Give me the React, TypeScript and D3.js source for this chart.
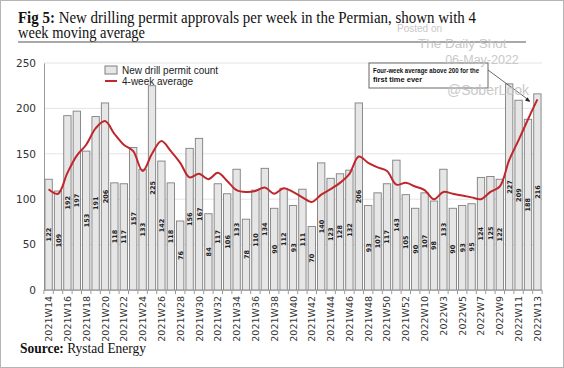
import React, { useEffect, useRef } from "react";
import * as d3 from "d3";

// week categories (the 2022 labels follow the source's own ordering)
const weeks: string[] = [
  ...d3.range(14, 53).map((w) => `2021W${w}`),
  "2022W1", "2022W10", "2022W2", "2022W3", "2022W4", "2022W5", "2022W6",
  "2022W7", "2022W8", "2022W9", "2022W10b", "2022W11", "2022W12", "2022W13",
];
const tickLabel = (w: string) => w.replace("b", "");

const permits: number[] = [
  122, 109, 192, 197, 153, 191, 206, 118, 117, 157, 133, 225, 142, 118, 76, 156, 167, 84, 117, 106,
  133, 78, 110, 134, 90, 112, 93, 111, 70, 140, 123, 128, 132, 206, 93, 107, 117, 143, 105, 90,
  107, 98, 133, 90, 93, 95, 124, 125, 122, 227, 209, 188, 216,
];

const avg4: number[] = [
  111, 106, 129, 148, 160, 178, 186, 172, 160, 153, 131, 150, 164, 153, 140, 124, 128, 122, 129, 120,
  110, 108, 109, 113, 106, 112, 108, 102, 97, 105, 111, 118, 128, 147, 140, 135, 131, 116, 118, 114,
  110, 100, 108, 106, 104, 102, 100, 108, 114, 143, 165, 188, 210,
];

const yTicks = [0, 50, 100, 150, 200, 250];

function App() {
  const ref = useRef<SVGSVGElement>(null);

  useEffect(() => {
    const svg = d3.select(ref.current);
    svg.selectAll("*").remove();

    const width = 564;
    const height = 368;
    const margin = { left: 44, right: 22, top: 63, bottom: 78 };
    const sans = "'Liberation Sans', Arial, sans-serif";
    const serif = "'Liberation Serif', 'DejaVu Serif', serif";

    // frame
    svg.append("rect").attr("x", 0.5).attr("y", 0.5).attr("width", width - 1).attr("height", height - 1)
      .attr("fill", "#fff").attr("stroke", "#b5b5b5");

    // title
    const title = svg.append("text").attr("x", 18).attr("y", 23).style("font-family", serif).style("font-size", "16px").attr("fill", "#111")
      .attr("textLength", 458).attr("lengthAdjust", "spacingAndGlyphs");
    title.append("tspan").attr("font-weight", "bold").text("Fig 5: ");
    title.append("tspan").text("New drilling permit approvals per week in the Permian, shown with 4");
    svg.append("text").attr("x", 18).attr("y", 38).style("font-family", serif).style("font-size", "16px").attr("fill", "#111")
      .attr("textLength", 127).attr("lengthAdjust", "spacingAndGlyphs")
      .text("week moving average");
    svg.append("line").attr("x1", 18).attr("x2", 526).attr("y1", 42).attr("y2", 42).attr("stroke", "#555").attr("stroke-width", 1.2);

    const x = d3.scaleBand<string>().domain(weeks).range([margin.left, width - margin.right]).paddingInner(0.22).paddingOuter(0.1);
    const y = d3.scaleLinear().domain([0, 250]).range([height - margin.bottom, margin.top]);
    const gap = x.step() - x.bandwidth();

    // grid
    svg.append("g").selectAll("line").data(yTicks.slice(1)).join("line")
      .attr("x1", margin.left).attr("x2", width - margin.right)
      .attr("y1", (d) => y(d)).attr("y2", (d) => y(d))
      .attr("stroke", "#e4e4e4");

    // y axis
    const yAxis = svg.append("g").attr("transform", `translate(${margin.left},0)`)
      .call(d3.axisLeft(y).tickValues(yTicks).tickSize(0).tickPadding(8));
    yAxis.select(".domain").attr("stroke", "#999");
    yAxis.selectAll("text").style("font-family", "'DejaVu Sans', sans-serif").style("font-size", "10.5px").attr("fill", "#333");

    // x axis line + tick marks at band boundaries
    svg.append("line").attr("x1", margin.left).attr("x2", width - margin.right)
      .attr("y1", y(0)).attr("y2", y(0)).attr("stroke", "#999");
    const bounds = [...weeks.map((w) => x(w)! - gap / 2), x(weeks[weeks.length - 1])! + x.bandwidth() + gap / 2];
    svg.append("g").selectAll("line").data(bounds).join("line")
      .attr("x1", (d) => d).attr("x2", (d) => d)
      .attr("y1", y(0)).attr("y2", y(0) + 4).attr("stroke", "#999");

    // x labels, rotated
    svg.append("g").selectAll("text").data(weeks.filter((_, i) => i % 2 === 0)).join("text")
      .attr("transform", (w) => `translate(${x(w)! + x.bandwidth() / 2 + 3.5},${y(0) + 6}) rotate(-90)`)
      .attr("text-anchor", "end")
      .style("font-family", "'DejaVu Sans', sans-serif").style("font-size", "9.5px").attr("fill", "#333")
      .text((w) => tickLabel(w));

    // bars
    svg.append("g").selectAll("rect").data(permits).join("rect")
      .attr("x", (_, i) => x(weeks[i])!)
      .attr("y", (d) => y(d))
      .attr("width", x.bandwidth())
      .attr("height", (d) => y(0) - y(d))
      .attr("fill", "#e6e6e6")
      .attr("stroke", "#7f7f7f")
      .attr("stroke-width", 0.9);

    // bar value labels
    svg.append("g").selectAll("text").data(permits).join("text")
      .attr("transform", (d, i) => `translate(${x(weeks[i])! + x.bandwidth() / 2 + 2.5},${(y(d) + y(0)) / 2}) rotate(-90)`)
      .attr("text-anchor", "middle")
      .style("font-family", "'DejaVu Sans', sans-serif").style("font-size", "6.5px").attr("font-weight", "bold").attr("fill", "#222")
      .text((d) => d);

    // moving average
    const line = d3.line<number>()
      .x((_, i) => x(weeks[i])! + x.bandwidth() / 2)
      .y((d) => y(d))
      .curve(d3.curveCatmullRom.alpha(0.5));
    svg.append("path").datum(avg4).attr("d", line).attr("fill", "none").attr("stroke", "#c0272d").attr("stroke-width", 2);

    // legend
    const lg = svg.append("g").attr("transform", "translate(105,66)");
    lg.append("rect").attr("x", 0).attr("y", 0).attr("width", 12).attr("height", 8).attr("fill", "#e6e6e6").attr("stroke", "#7f7f7f");
    lg.append("text").attr("x", 17).attr("y", 8).style("font-family", sans).style("font-size", "10px").attr("fill", "#222").text("New drill permit count");
    lg.append("line").attr("x1", 0).attr("x2", 12).attr("y1", 15).attr("y2", 15).attr("stroke", "#c0272d").attr("stroke-width", 2);
    lg.append("text").attr("x", 17).attr("y", 18.5).style("font-family", sans).style("font-size", "10px").attr("fill", "#222").text("4-week average");

    // annotation
    const an = svg.append("g");
    an.append("rect").attr("x", 369).attr("y", 63).attr("width", 119).attr("height", 25).attr("fill", "#fff").attr("stroke", "#666");
    an.append("text").attr("x", 373).attr("y", 73).style("font-family", sans).style("font-size", "7.5px").attr("font-weight", "bold").attr("fill", "#111")
      .attr("textLength", 106).attr("lengthAdjust", "spacingAndGlyphs")
      .text("Four-week average above 200  for the");
    an.append("text").attr("x", 373).attr("y", 82).style("font-family", sans).style("font-size", "7.5px").attr("font-weight", "bold").attr("fill", "#111")
      .text("first time ever");
    const ax = x(weeks[weeks.length - 2])! + x.bandwidth() / 2 + 2;
    an.append("line").attr("x1", 488).attr("y1", 70).attr("x2", ax).attr("y2", 101).attr("stroke", "#444").attr("stroke-width", 0.8);
    an.append("path").attr("d", `M${ax},${102} l-5,-1.5 l2.6,-3.3 z`).attr("fill", "#222");

    // watermark
    const wm = svg.append("g").attr("fill", "#c4c4c4").attr("opacity", 0.9).style("font-family", sans);
    wm.append("text").attr("x", 397).attr("y", 32).style("font-size", "10px").text("Posted on");
    wm.append("text").attr("x", 418).attr("y", 48).style("font-size", "13.5px").text("The Daily Shot");
    wm.append("text").attr("x", 482).attr("y", 64).attr("text-anchor", "middle").style("font-size", "12.5px").text("06-May-2022");
    wm.append("text").attr("x", 488).attr("y", 95).attr("text-anchor", "middle").style("font-size", "14px").text("@SoberLook");

    // source
    const src = svg.append("text").attr("x", 20).attr("y", 353).style("font-family", serif).style("font-size", "14px").attr("fill", "#111")
      .attr("textLength", 126).attr("lengthAdjust", "spacingAndGlyphs");
    src.append("tspan").attr("font-weight", "bold").text("Source: ");
    src.append("tspan").text("Rystad Energy");
  }, []);

  return <svg ref={ref} width={564} height={368} style={{ position: "absolute", left: 0, top: 0 }} />;
}

export default App;
